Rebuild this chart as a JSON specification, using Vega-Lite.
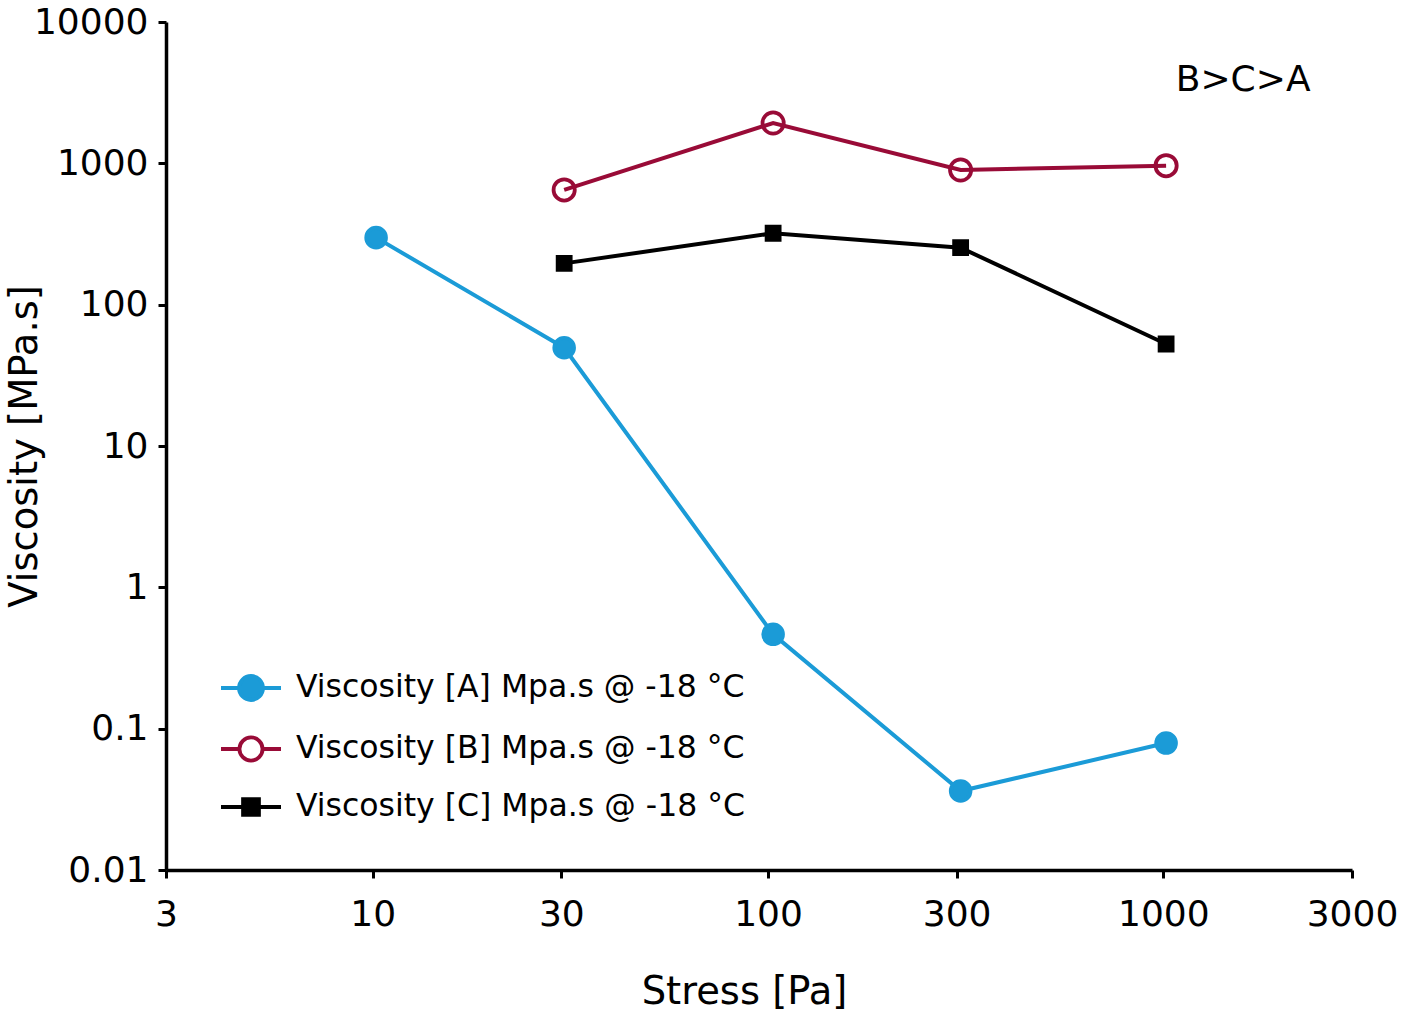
{
  "$schema": "https://vega.github.io/schema/vega-lite/v6.json",
  "autosize": {"type": "none"},
  "width": 1186,
  "height": 848,
  "padding": {"left": 166, "top": 22, "right": 49, "bottom": 144},
  "background": "white",
  "config": {
    "font": "DejaVu Sans",
    "view": {"stroke": null},
    "axis": {
      "grid": false,
      "domainColor": "black",
      "domainWidth": 3.5,
      "tickColor": "black",
      "tickWidth": 3,
      "tickSize": 8,
      "labelColor": "black",
      "labelFontSize": 36,
      "labelFont": "DejaVu Sans",
      "titleColor": "black",
      "titleFont": "DejaVu Sans",
      "titleFontSize": 38.5,
      "titleFontWeight": "normal"
    },
    "legend": {
      "orient": "none",
      "legendX": 68,
      "legendY": 649,
      "title": null,
      "labelFontSize": 31.5,
      "labelFont": "DejaVu Sans",
      "labelColor": "black",
      "labelOffset": 28,
      "labelLimit": 600,
      "rowPadding": 21,
      "symbolSize": 900,
      "symbolStrokeWidth": 3.8
    }
  },
  "datasets": {
    "visc": [
      {"series": "Viscosity [A] Mpa.s @ -18 °C", "stress": 10.2, "viscosity": 298},
      {"series": "Viscosity [A] Mpa.s @ -18 °C", "stress": 30.5, "viscosity": 49.6},
      {"series": "Viscosity [A] Mpa.s @ -18 °C", "stress": 103, "viscosity": 0.465},
      {"series": "Viscosity [A] Mpa.s @ -18 °C", "stress": 307, "viscosity": 0.0362},
      {"series": "Viscosity [A] Mpa.s @ -18 °C", "stress": 1016, "viscosity": 0.0791},
      {"series": "Viscosity [B] Mpa.s @ -18 °C", "stress": 30.5, "viscosity": 648},
      {"series": "Viscosity [B] Mpa.s @ -18 °C", "stress": 103, "viscosity": 1929},
      {"series": "Viscosity [B] Mpa.s @ -18 °C", "stress": 307, "viscosity": 897},
      {"series": "Viscosity [B] Mpa.s @ -18 °C", "stress": 1016, "viscosity": 962},
      {"series": "Viscosity [C] Mpa.s @ -18 °C", "stress": 30.5, "viscosity": 196},
      {"series": "Viscosity [C] Mpa.s @ -18 °C", "stress": 103, "viscosity": 320},
      {"series": "Viscosity [C] Mpa.s @ -18 °C", "stress": 307, "viscosity": 253},
      {"series": "Viscosity [C] Mpa.s @ -18 °C", "stress": 1016, "viscosity": 52.7}
    ],
    "note": [
      {"label": "B>C>A", "stress": 1591, "viscosity": 3250}
    ]
  },
  "layer": [
    {
      "data": {"name": "visc"},
      "mark": {"type": "line", "strokeWidth": 4},
      "encoding": {
        "x": {
          "field": "stress",
          "type": "quantitative",
          "scale": {"type": "log", "domain": [3, 3000], "nice": false},
          "axis": {
            "values": [3, 10, 30, 100, 300, 1000, 3000],
            "format": "~f",
            "labelPadding": 19,
            "labelFlush": false,
            "labelOverlap": false,
            "title": "Stress [Pa]",
            "titleX": 578,
            "titleY": 133,
            "titleBaseline": "alphabetic"
          }
        },
        "y": {
          "field": "viscosity",
          "type": "quantitative",
          "scale": {"type": "log", "domain": [0.01, 10000], "nice": false},
          "axis": {
            "values": [0.01, 0.1, 1, 10, 100, 1000, 10000],
            "format": "~f",
            "labelPadding": 10,
            "labelFlush": false,
            "labelOverlap": false,
            "title": "Viscosity [MPa.s]",
            "titleX": -130,
            "titleY": 424,
            "titleAngle": -90,
            "titleBaseline": "alphabetic"
          }
        },
        "color": {
          "field": "series",
          "type": "nominal",
          "scale": {"range": ["#1b9bd7", "#990b37", "#000000"]},
          "legend": null
        },
        "detail": {"field": "series"}
      }
    },
    {
      "data": {"name": "visc"},
      "mark": {"type": "point", "strokeWidth": 3.8, "opacity": 0},
      "encoding": {
        "x": {"field": "stress", "type": "quantitative"},
        "y": {"field": "viscosity", "type": "quantitative"},
        "shape": {
          "field": "series",
          "type": "nominal",
          "scale": {
            "range": [
              "M-2,0H2M-0.8,0A0.8,0.8,0,1,0,0.8,0A0.8,0.8,0,1,0,-0.8,0Z",
              "M-2,0H-0.77M0.77,0H2M-0.77,0A0.77,0.77,0,1,0,0.77,0A0.77,0.77,0,1,0,-0.77,0Z",
              "M-2,0H2M-0.53,-0.53H0.53V0.53H-0.53Z"
            ]
          },
          "legend": {
            "encode": {
              "symbols": {
                "update": {
                  "fill": {
                    "signal": "indexof(datum.value, '[A]') >= 0 ? '#1b9bd7' : indexof(datum.value, '[B]') >= 0 ? 'transparent' : '#000000'"
                  },
                  "stroke": {
                    "signal": "indexof(datum.value, '[A]') >= 0 ? '#1b9bd7' : indexof(datum.value, '[B]') >= 0 ? '#990b37' : '#000000'"
                  },
                  "opacity": {"value": 1}
                }
              }
            }
          }
        }
      }
    },
    {
      "data": {"name": "visc"},
      "mark": {"type": "point", "strokeWidth": 3.8, "opacity": 1},
      "encoding": {
        "x": {"field": "stress", "type": "quantitative"},
        "y": {"field": "viscosity", "type": "quantitative"},
        "stroke": {
          "field": "series",
          "type": "nominal",
          "scale": {"range": ["#1b9bd7", "#990b37", "#000000"]},
          "legend": null
        },
        "fill": {
          "field": "series",
          "type": "nominal",
          "scale": {"range": ["#1b9bd7", "transparent", "#000000"]},
          "legend": null
        },
        "shape": {
          "condition": {"test": "indexof(datum.series, '[C]') >= 0", "value": "square"},
          "value": "circle"
        },
        "size": {
          "condition": [
            {"test": "indexof(datum.series, '[C]') >= 0", "value": 169},
            {"test": "indexof(datum.series, '[B]') >= 0", "value": 450}
          ],
          "value": 390
        }
      }
    },
    {
      "mark": {"type": "rule", "strokeWidth": 3.5, "color": "black"},
      "encoding": {"x": {"datum": 3000, "type": "quantitative"}}
    },
    {
      "data": {"name": "note"},
      "mark": {"type": "text", "fontSize": 36, "font": "DejaVu Sans", "color": "black", "align": "center", "baseline": "alphabetic"},
      "encoding": {
        "x": {"field": "stress", "type": "quantitative"},
        "y": {"field": "viscosity", "type": "quantitative"},
        "text": {"field": "label"}
      }
    }
  ]
}
